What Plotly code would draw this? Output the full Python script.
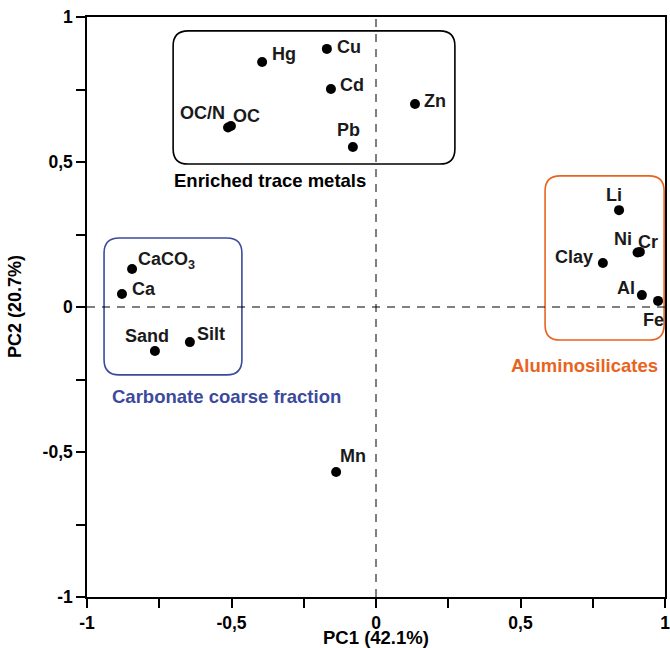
import plotly.graph_objects as go

# Variable loadings (PC1, PC2)
names = ["Hg", "Cu", "Cd", "Zn", "OC/N", "OC", "Pb", "Li", "Ni", "Cr", "Clay", "Al", "Fe",
         "CaCO3", "Ca", "Sand", "Silt", "Mn"]
pc1 = [-0.394, -0.170, -0.156, 0.135, -0.512, -0.502, -0.080, 0.841, 0.905, 0.913, 0.785, 0.920, 0.976,
       -0.844, -0.879, -0.765, -0.644, -0.138]
pc2 = [0.845, 0.890, 0.752, 0.700, 0.619, 0.624, 0.552, 0.334, 0.188, 0.190, 0.152, 0.041, 0.021,
       0.131, 0.045, -0.152, -0.121, -0.569]
label_text = ["Hg", "Cu", "Cd", "Zn", "OC/N", "OC", "Pb", "Li", "Ni", "Cr", "Clay", "Al", "Fe",
              "CaCO<sub>3</sub>", "Ca", "Sand", "Silt", "Mn"]
# label placement: (xanchor, xshift px, yshift px)
label_place = [("left", 8, 8), ("left", 8, 2), ("left", 7, 4), ("left", 7, 3),
               ("right", -1, 14), ("left", 0, 10), ("center", -4, 17), ("center", -5, 15),
               ("right", -4, 13), ("left", -4, 10), ("right", -8, 6), ("right", -5, 7),
               ("right", 8, -19), ("left", 4, 9), ("left", 8, 5), ("center", -8, 15),
               ("left", 5, 8), ("left", 2, 16)]

x_ticks = [-1, -0.5, 0, 0.5, 1]
x_ticktext = ["-1", "-0,5", "0", "0,5", "1"]
y_ticks = [-1, -0.5, 0, 0.5, 1]
y_ticktext = ["-1", "-0,5", "0", "0,5", "1"]
x_title = "PC1 (42.1%)"
y_title = "PC2 (20.7%)"

# Group boxes: (title, x0, x1, y0, y1, colour, label x, label y)
groups = [
    ("Enriched trace metals", -0.702, 0.273, 0.493, 0.952, "#000000", -0.367, 0.436),
    ("Carbonate coarse fraction", -0.941, -0.464, -0.234, 0.238, "#3b4a9c", -0.518, -0.307),
    ("Aluminosilicates", 0.585, 0.997, -0.114, 0.452, "#e8641e", 0.720, -0.203),
]

FONT = "Liberation Sans, Arial, sans-serif"

fig = go.Figure()
fig.add_trace(go.Scatter(x=pc1, y=pc2, mode="markers",
                         marker=dict(color="black", size=10), hoverinfo="text", text=names))

# zero lines
fig.add_shape(type="line", x0=0, x1=0, y0=-1, y1=1, xref="x", yref="y",
              line=dict(color="#000000", width=1, dash="8px,7px"))
fig.add_shape(type="line", x0=-1, x1=1, y0=0, y1=0, xref="x", yref="y",
              line=dict(color="#000000", width=1, dash="8px,7px"))

rx, ry = 0.052, 0.052
for title, x0, x1, y0, y1, col, tx, ty in groups:
    path = (f"M {x0+rx},{y0} L {x1-rx},{y0} Q {x1},{y0} {x1},{y0+ry} "
            f"L {x1},{y1-ry} Q {x1},{y1} {x1-rx},{y1} L {x0+rx},{y1} "
            f"Q {x0},{y1} {x0},{y1-ry} L {x0},{y0+ry} Q {x0},{y0} {x0+rx},{y0} Z")
    fig.add_shape(type="path", path=path, xref="x", yref="y",
                  line=dict(color=col, width=1.6), layer="below")
    fig.add_annotation(x=tx, y=ty, text=f"<b>{title}</b>", showarrow=False,
                       font=dict(family=FONT, size=18.5, color=col),
                       xanchor="center", yanchor="middle")

for xv, yv, t, (xa, xs, ys) in zip(pc1, pc2, label_text, label_place):
    fig.add_annotation(x=xv, y=yv, text=f"<b>{t}</b>", showarrow=False,
                       xanchor=xa, yanchor="middle", xshift=xs, yshift=ys,
                       font=dict(family=FONT, size=18, color="#1a1a1a"))

# axis titles
fig.add_annotation(x=0.5, y=0, xref="paper", yref="paper", text=f"<b>{x_title}</b>",
                   showarrow=False, xanchor="center", yanchor="middle", yshift=-40,
                   font=dict(family=FONT, size=18.5, color="black"))
fig.add_annotation(x=0, y=0.5, xref="paper", yref="paper", text=f"<b>{y_title}</b>",
                   showarrow=False, xanchor="center", yanchor="middle", xshift=-72,
                   textangle=-90, font=dict(family=FONT, size=18, color="black"))

axis_common = dict(range=[-1, 1], showline=True, linecolor="black", linewidth=1.5, mirror=True,
                   ticks="outside", ticklen=9, tickwidth=1.5, tickcolor="black",
                   showgrid=False, zeroline=False, automargin=False,
                   ticklabeloverflow="allow",
                   tickfont=dict(family=FONT, size=17.5, color="black", weight="bold"),
                   minor=dict(dtick=0.25, tick0=-1, ticks="outside", ticklen=9,
                              tickwidth=1.5, tickcolor="black", showgrid=False))

fig.update_xaxes(**axis_common, tickvals=x_ticks, ticktext=x_ticktext)
fig.update_yaxes(**axis_common, tickvals=y_ticks, ticktext=y_ticktext)

fig.update_layout(width=670, height=648, margin=dict(l=87, r=5, t=17, b=51),
                  plot_bgcolor="white", paper_bgcolor="white", showlegend=False,
                  separators=", ")

fig.write_html("out.html")
